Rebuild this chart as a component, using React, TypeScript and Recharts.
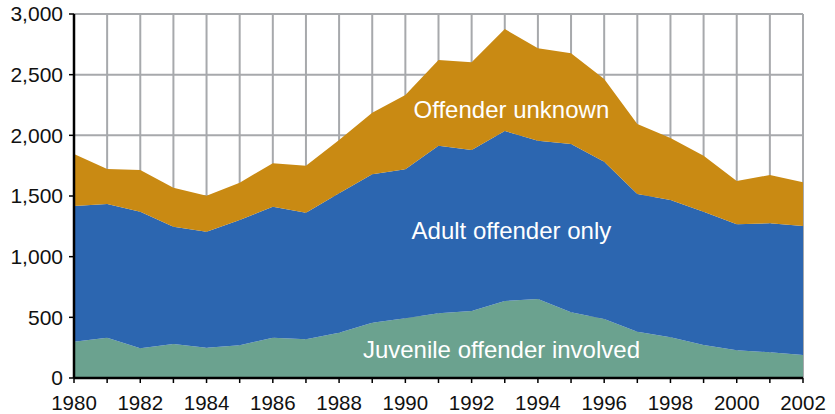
import React from 'react';
import {
  AreaChart,
  Area,
  XAxis,
  YAxis,
  CartesianGrid,
  ReferenceDot,
} from 'recharts';

const years = [
  1980, 1981, 1982, 1983, 1984, 1985, 1986, 1987, 1988, 1989, 1990, 1991,
  1992, 1993, 1994, 1995, 1996, 1997, 1998, 1999, 2000, 2001, 2002,
];

const juvenile = [
  299, 332, 245, 280, 250, 269, 332, 319, 373, 456, 492, 533, 552, 635, 651,
  541, 486, 382, 335, 272, 228, 212, 190,
];

const adult = [
  1119, 1102, 1126, 967, 956, 1033, 1080, 1043, 1149, 1223, 1228, 1382, 1327,
  1401, 1305, 1388, 1297, 1135, 1132, 1099, 1039, 1063, 1063,
];

const unknown = [
  428, 289, 343, 321, 297, 308, 358, 388, 440, 508, 613, 706, 723, 840, 761,
  747, 681, 576, 511, 461, 357, 398, 360,
];

const yTicks = [0, 500, 1000, 1500, 2000, 2500, 3000];

const data = years.map((year, i) => ({
  year,
  juvenile: juvenile[i],
  adult: adult[i],
  unknown: unknown[i],
}));

const FONT = '"Liberation Sans", Arial, Helvetica, sans-serif';

const inside = (value: string) => ({
  value,
  position: 'center' as const,
  fill: '#ffffff',
  fontSize: 24,
  fontFamily: FONT,
});

export default function App() {
  return (
    <div style={{ position: 'absolute', left: 0, top: 0, background: '#fff' }}>
      <AreaChart
        width={835}
        height={414}
        data={data}
        margin={{ top: 14, right: 32, bottom: 6, left: 14 }}
      >
        <CartesianGrid stroke="#a7a9ac" strokeWidth={2} />
        <XAxis
          dataKey="year"
          type="number"
          domain={[1980, 2002]}
          ticks={years}
          interval={0}
          height={30}
          tickFormatter={(v: number) => (v % 2 === 0 ? String(v) : '')}
          axisLine={{ stroke: '#000', strokeWidth: 2.5 }}
          tickLine={{ stroke: '#000', strokeWidth: 1.5 }}
          tickSize={5}
          tickMargin={12}
          tick={{ fill: '#111', fontSize: 20.5, fontFamily: FONT }}
        />
        <YAxis
          domain={[0, 3000]}
          ticks={yTicks}
          width={60}
          tickFormatter={(v: number) => v.toLocaleString('en-US')}
          axisLine={{ stroke: '#000', strokeWidth: 2.5 }}
          tickLine={{ stroke: '#000', strokeWidth: 1.5 }}
          tickSize={5}
          tickMargin={6}
          tick={{ fill: '#111', fontSize: 21, fontFamily: FONT }}
        />
        <Area
          type="linear"
          dataKey="juvenile"
          stackId="a"
          stroke="none"
          fill="#6ba28f"
          fillOpacity={1}
          isAnimationActive={false}
        />
        <Area
          type="linear"
          dataKey="adult"
          stackId="a"
          stroke="none"
          fill="#2c66b0"
          fillOpacity={1}
          isAnimationActive={false}
        />
        <Area
          type="linear"
          dataKey="unknown"
          stackId="a"
          stroke="none"
          fill="#c98a13"
          fillOpacity={1}
          isAnimationActive={false}
        />
        <ReferenceDot x={1993.2} y={2209} r={0} fill="none" stroke="none" label={inside('Offender unknown')} />
        <ReferenceDot x={1993.2} y={1212} r={0} fill="none" stroke="none" label={inside('Adult offender only')} />
        <ReferenceDot x={1992.9} y={239} r={0} fill="none" stroke="none" label={inside('Juvenile offender involved')} />
      </AreaChart>
    </div>
  );
}
